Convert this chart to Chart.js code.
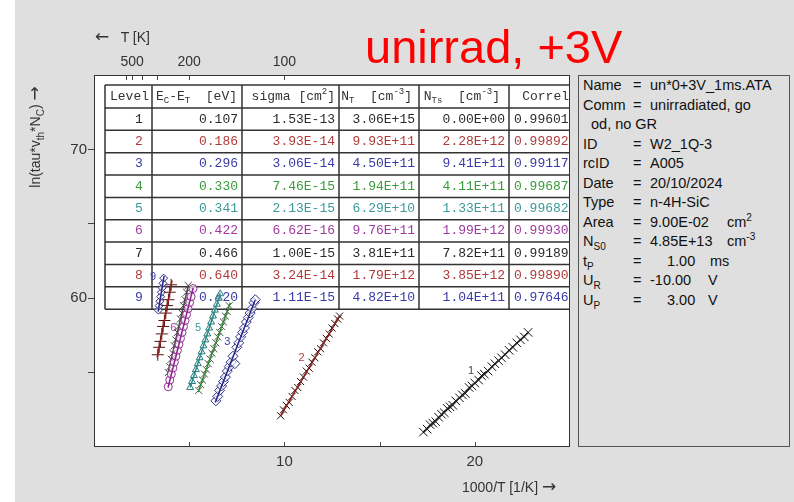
<!DOCTYPE html>
<html>
<head>
<meta charset="utf-8">
<script src="https://cdn.jsdelivr.net/npm/chart.js@4.4.1/dist/chart.umd.min.js"></script>
<style>
  body { margin: 0; background: #fff; font-family: "Liberation Sans", Arial, sans-serif; }
  #wrap { position: relative; width: 794px; height: 502px; overflow: hidden; }
  #wrap canvas { position: absolute; left: 0; top: 0; }
  .axt { position: absolute; color: #333; font-size: 14px; white-space: nowrap; }
  .arr { font-family: "DejaVu Sans", sans-serif; font-size: 17px; line-height: 0; }
  .sb { font-size: 10px; position: relative; top: 4px; line-height: 0; }
  .sp { font-size: 10px; position: relative; top: -6px; line-height: 0; }
  #title { position: absolute; left: 365px; top: 23px; font-size: 47px; line-height: 47px; color: #f00; white-space: nowrap; }
  #info { position: absolute; left: 578px; top: 75px; width: 210px; height: 370px; border: 1px solid #555; background: #dfdfdf; }
  #info > div { position: relative; height: 19.5px; line-height: 19.5px; font-size: 14.5px; color: #111; white-space: nowrap; }
  #info > div > span { position: absolute; }
</style>
</head>
<body>
<div id="wrap">
  <canvas id="chart_1" width="794" height="502"></canvas>
  <div id="title">unirrad, +3V</div>
  <div class="axt" style="left:95px; top:29px;"><span class="arr">&larr;</span>&nbsp;&nbsp; T [K]</div>
  <div class="axt" style="left:462px; top:479px;">1000/T [1/K] <span class="arr">&rarr;</span></div>
  <div class="axt" style="left:-25px; top:129px; width:120px; text-align:center; transform:rotate(-90deg);">ln(tau*v<span class="sb">th</span>*N<span class="sb">C</span>) <span class="arr">&rarr;</span></div>
  <div id="info">
    <div><span style="left:4px">Name</span><span style="left:54px">=</span><span style="left:71px">un*0+3V_1ms.ATA</span></div>
    <div><span style="left:4px">Comm</span><span style="left:54px">=</span><span style="left:71px">unirradiated, go</span></div>
    <div><span style="left:12px">od, no GR</span></div>
    <div><span style="left:4px">ID</span><span style="left:54px">=</span><span style="left:71px">W2_1Q-3</span></div>
    <div><span style="left:4px">rcID</span><span style="left:54px">=</span><span style="left:71px">A005</span></div>
    <div><span style="left:4px">Date</span><span style="left:54px">=</span><span style="left:71px">20/10/2024</span></div>
    <div><span style="left:4px">Type</span><span style="left:54px">=</span><span style="left:71px">n-4H-SiC</span></div>
    <div><span style="left:4px">Area</span><span style="left:54px">=</span><span style="left:71px">9.00E-02</span><span style="left:148px">cm<span class="sp">2</span></span></div>
    <div><span style="left:4px">N<span class="sb">S0</span></span><span style="left:54px">=</span><span style="left:71px">4.85E+13</span><span style="left:148px">cm<span class="sp">-3</span></span></div>
    <div><span style="left:4px">t<span class="sb">P</span></span><span style="left:54px">=</span><span style="left:88px">1.00</span><span style="left:131px">ms</span></div>
    <div><span style="left:4px">U<span class="sb">R</span></span><span style="left:54px">=</span><span style="left:71px">-10.00</span><span style="left:129px">V</span></div>
    <div><span style="left:4px">U<span class="sb">P</span></span><span style="left:54px">=</span><span style="left:88px">3.00</span><span style="left:129px">V</span></div>
  </div>
</div>
<script>
// Arrhenius points per level: x = 1000/T [1/K], y = ln(tau*vth*Nc)
const l1x = [17.3, 17.5, 17.65, 17.8, 17.95, 18.1, 18.25, 18.4, 18.55, 18.7, 18.85, 19.0, 19.2, 19.35, 19.5, 19.7, 19.85, 20.0, 20.2, 20.35, 20.5, 20.7, 20.9, 21.05, 21.25, 21.4, 21.6, 21.8, 22.0, 22.2, 22.4, 22.6, 22.8];
const l1y = [51.0, 51.2, 51.5, 51.6, 51.7, 52.0, 52.2, 52.3, 52.6, 52.7, 52.8, 53.1, 53.3, 53.5, 53.6, 54.0, 54.1, 54.3, 54.5, 54.8, 54.9, 55.1, 55.4, 55.6, 55.8, 56.0, 56.2, 56.5, 56.7, 57.0, 57.2, 57.4, 57.7];
const l2x = [9.8, 9.95, 10.1, 10.25, 10.4, 10.55, 10.7, 10.85, 11.0, 11.15, 11.3, 11.45, 11.6, 11.75, 11.9, 12.05, 12.2, 12.35, 12.5, 12.65, 12.8, 12.9];
const l2y = [52.1, 52.5, 52.8, 53.0, 53.4, 53.8, 54.0, 54.4, 54.7, 55.1, 55.3, 55.7, 56.0, 56.4, 56.6, 57.0, 57.3, 57.6, 58.0, 58.3, 58.6, 58.8];
const l3x = [6.4, 6.5, 6.6, 6.7, 6.8, 6.9, 7.0, 7.1, 7.2, 7.3, 7.4, 7.5, 7.6, 7.7, 7.8, 7.9, 8.0, 8.1, 8.2, 8.3, 8.4, 8.47];
const l3y = [53.1, 53.4, 53.8, 54.1, 54.4, 54.7, 55.1, 55.4, 55.7, 56.1, 55.6, 56.7, 57.0, 57.4, 57.7, 58.0, 58.4, 58.7, 59.0, 59.3, 59.7, 59.9];
const l4x = [5.5, 5.6, 5.7, 5.8, 5.9, 6.0, 6.1, 6.2, 6.3, 6.4, 6.5, 6.6, 6.7, 6.8, 6.9, 7.0, 7.1];
const l4y = [53.8, 54.2, 54.5, 54.9, 55.2, 55.6, 55.9, 56.3, 56.6, 57.0, 57.4, 57.7, 58.1, 58.4, 58.8, 59.1, 59.5];
const l5x = [5.05, 5.15, 5.25, 5.35, 5.45, 5.55, 5.65, 5.75, 5.85, 5.95, 6.05, 6.15, 6.25, 6.35, 6.45, 6.55, 6.63];
const l5y = [54.0, 54.4, 54.8, 55.2, 55.6, 56.0, 56.4, 56.8, 57.2, 57.6, 58.0, 58.4, 58.8, 59.2, 59.6, 60.0, 60.3];
const l6x = [3.9, 3.98, 4.06, 4.14, 4.22, 4.3, 4.38, 4.46, 4.54, 4.62, 4.7, 4.78, 4.86, 4.94, 5.02, 5.1, 5.2];
const l6y = [54.05, 54.5, 54.9, 55.3, 55.7, 56.1, 56.5, 56.9, 57.3, 57.7, 58.1, 58.5, 58.9, 59.3, 59.7, 60.1, 60.65];
const l7x = [3.9, 3.98, 4.06, 4.14, 4.22, 4.3, 4.38, 4.46, 4.54, 4.62, 4.7, 4.78, 4.86, 4.95];
const l7y = [55.0, 55.4, 55.9, 56.3, 56.8, 57.2, 57.7, 58.1, 58.6, 59.0, 59.5, 59.9, 60.4, 60.85];
const l8x = [3.35, 3.42, 3.49, 3.56, 3.63, 3.7, 3.77, 3.84, 3.91, 3.98, 4.05];
const l8y = [56.2, 56.7, 57.1, 57.6, 58.1, 58.5, 59.0, 59.5, 59.9, 60.4, 60.9];
const l9x = [3.38, 3.42, 3.46, 3.5, 3.54, 3.58, 3.62, 3.66];
const l9y = [59.2, 59.5, 59.8, 60.1, 60.4, 60.7, 61.0, 61.35];

// fitted lines, start/end per level
const fitX = [[17.3, 22.8], [9.8, 12.9], [6.37, 8.47], [5.47, 7.16], [5.05, 6.63], [3.89, 5.21], [3.89, 4.95], [3.32, 4.1], [3.37, 3.68]];
const fitY = [[51.0, 57.7], [52.1, 58.8], [53.0, 59.9], [53.7, 59.7], [54.0, 60.3], [54.0, 60.7], [55.0, 60.85], [56.0, 61.2], [59.1, 61.5]];

// level labels placed next to the curves
const tagText = ['1', '2', '3', '5', '6', '9'];
const tagX = [19.8, 10.9, 7.0, 5.47, 4.16, 3.1];
const tagY = [55.1, 56.0, 57.05, 58.0, 58.0, 61.4];

// result table
const levelNo = ['1', '2', '3', '4', '5', '6', '7', '8', '9'];
const energies = ['0.107', '0.186', '0.296', '0.330', '0.341', '0.422', '0.466', '0.640', '0.420'];
const sigmas = ['1.53E-13', '3.93E-14', '3.06E-14', '7.46E-15', '2.13E-15', '6.62E-16', '1.00E-15', '3.24E-14', '1.11E-15'];
const nT = ['3.06E+15', '9.93E+11', '4.50E+11', '1.94E+11', '6.29E+10', '9.76E+11', '3.81E+11', '1.79E+12', '4.82E+10'];
const nTs = ['0.00E+00', '2.28E+12', '9.41E+11', '4.11E+11', '1.33E+11', '1.99E+12', '7.82E+11', '3.85E+12', '1.04E+11'];
const correl = ['0.99601', '0.99892', '0.99117', '0.99687', '0.99682', '0.99930', '0.99189', '0.99890', '0.97646'];

// temperature axis on top
const tTicks = [600, 500, 400, 300, 200, 100];
const tLabels = [500, 200, 100];

const textColors = ['#2a2a2a', '#b03a3a', '#3a3aa8', '#3a9a3a', '#3a9a9a', '#a03aa0', '#2a2a2a', '#b03a3a', '#3a3aa8'];
const lineColors = ['#222', '#8a2020', '#26268a', '#2a8a2a', '#2a8a8a', '#902090', '#444', '#8a2020', '#26268a'];
const markers = [
    {style: 'crossRot', color: '#111', r: 6},
    {style: 'crossRot', color: '#2a0a0a', r: 5},
    {style: 'rectRot', color: '#30308a', r: 5},
    {style: 'crossRot', color: '#555', r: 5},
    {style: 'triangle', color: '#2a7a7a', r: 4},
    {style: 'circle', color: '#903090', r: 4},
    {style: 'crossRot', color: '#444', r: 5},
    {style: 'cross', color: '#5a1010', r: 6},
    {style: 'rectRot', color: '#30308a', r: 4}
];
const allX = [l1x, l2x, l3x, l4x, l5x, l6x, l7x, l8x, l9x];
const allY = [l1y, l2y, l3y, l4y, l5y, l6y, l7y, l8y, l9y];

function pts(xs, ys) {
    return xs.map((x, i) => ({x: x, y: ys[i]}));
}

const datasets = [];
allX.forEach((xs, i) => {
    datasets.push({
        data: pts(fitX[i], fitY[i]),
        showLine: true,
        borderColor: lineColors[i],
        borderWidth: 1.5,
        pointRadius: 0
    });
    datasets.push({
        data: pts(xs, allY[i]),
        showLine: false,
        pointStyle: markers[i].style,
        pointRadius: markers[i].r,
        borderColor: markers[i].color,
        backgroundColor: 'rgba(255,255,255,0.6)',
        pointBorderWidth: 1
    });
});

const MONO = '"Liberation Mono", "Courier New", monospace';

// draws text made of normal / sub / sup pieces, right aligned at xr
function drawRich(ctx, parts, xr, y) {
    let w = 0;
    parts.forEach(p => {
        ctx.font = p[1] ? '9px ' + MONO : '13px ' + MONO;
        w += ctx.measureText(p[0]).width;
    });
    let x = xr - w;
    parts.forEach(p => {
        ctx.font = p[1] ? '9px ' + MONO : '13px ' + MONO;
        const dy = p[1] == 'sub' ? 4 : (p[1] == 'sup' ? -5 : 0);
        ctx.fillText(p[0], x, y + dy);
        x += ctx.measureText(p[0]).width;
    });
}

const colX = [105, 152, 242, 339, 419, 509, 575];
const headTop = 85, rowTop = 108, rowH = 22.35;

const framePlugin = {
    id: 'frame',
    beforeDraw(chart) {
        const {ctx, chartArea: a} = chart;
        ctx.save();
        ctx.fillStyle = '#dfdfdf';
        ctx.fillRect(15, 0, chart.width - 15, chart.height);
        ctx.fillStyle = '#fff';
        ctx.fillRect(0, 0, 15, chart.height);
        ctx.fillRect(a.left, a.top, a.width, a.height);
        ctx.restore();
    },
    beforeDatasetsDraw(chart) {
        const ctx = chart.ctx;
        const bottom = rowTop + rowH * 9;
        ctx.save();
        ctx.beginPath();
        ctx.rect(colX[0] - 2, headTop - 2, 572 - colX[0], bottom - headTop + 4);
        ctx.clip();
        ctx.fillStyle = '#fff';
        ctx.fillRect(colX[0], headTop, colX[6] - colX[0], bottom - headTop);
        ctx.textBaseline = 'middle';

        // header
        const hy = (headTop + rowTop) / 2;
        ctx.fillStyle = '#333';
        ctx.font = '13px ' + MONO;
        ctx.textAlign = 'left';
        ctx.fillText('Level', colX[0] + 5, hy);
        drawRich(ctx, [['E', ''], ['C', 'sub'], ['-E', ''], ['T', 'sub'], ['  [eV]', '']], colX[2] - 5, hy);
        drawRich(ctx, [['sigma [cm', ''], ['2', 'sup'], [']', '']], colX[3] - 4, hy);
        drawRich(ctx, [['N', ''], ['T', 'sub'], ['  [cm', ''], ['-3', 'sup'], [']', '']], colX[4] - 7, hy);
        drawRich(ctx, [['N', ''], ['Ts', 'sub'], ['  [cm', ''], ['-3', 'sup'], [']', '']], colX[5] - 9, hy);
        drawRich(ctx, [['Correl', '']], 569, hy);

        // rows
        levelNo.forEach((n, i) => {
            const y = rowTop + rowH * (i + 0.5);
            ctx.fillStyle = textColors[i];
            ctx.font = '13px ' + MONO;
            ctx.textAlign = 'center';
            ctx.fillText(n, 139, y);
            ctx.textAlign = 'right';
            ctx.fillText(energies[i], colX[2] - 4, y);
            ctx.fillText(sigmas[i], colX[3] - 4, y);
            ctx.fillText(nT[i], colX[4] - 4, y);
            ctx.fillText(nTs[i], colX[5] - 4, y);
            ctx.textAlign = 'left';
            ctx.fillText(correl[i], colX[5] + 5, y);
        });

        // grid of the table
        ctx.strokeStyle = '#333';
        ctx.lineWidth = 1.5;
        ctx.beginPath();
        colX.forEach(x => { ctx.moveTo(x, headTop); ctx.lineTo(x, bottom); });
        ctx.moveTo(colX[0], headTop); ctx.lineTo(colX[6], headTop);
        for (let i = 0; i <= 9; i++) {
            ctx.moveTo(colX[0], rowTop + rowH * i);
            ctx.lineTo(colX[6], rowTop + rowH * i);
        }
        ctx.stroke();
        ctx.restore();
    },
    afterDatasetsDraw(chart) {
        const {ctx, chartArea: a, scales} = chart;
        ctx.save();
        // level numbers
        ctx.font = '11px "Liberation Sans", Arial, sans-serif';
        ctx.textAlign = 'center';
        ctx.textBaseline = 'middle';
        const tagColors = ['#444', '#b04040', '#4040b0', '#3a9a9a', '#a040a0', '#4040b0'];
        tagText.forEach((t, i) => {
            ctx.fillStyle = tagColors[i];
            ctx.fillText(t, scales.x.getPixelForValue(tagX[i]), scales.y.getPixelForValue(tagY[i]));
        });

        // inward tick marks on bottom and top axes
        ctx.strokeStyle = '#444';
        ctx.lineWidth = 1;
        ctx.beginPath();
        [5, 10, 15, 20].forEach(v => {
            const x = Math.round(scales.x.getPixelForValue(v)) + 0.5;
            ctx.moveTo(x, a.bottom); ctx.lineTo(x, a.bottom - 5);
        });
        tTicks.forEach(t => {
            const x = Math.round(scales.x.getPixelForValue(1000 / t)) + 0.5;
            ctx.moveTo(x, a.top); ctx.lineTo(x, a.top + 5);
        });
        ctx.stroke();

        // plot frame
        ctx.strokeStyle = '#333';
        ctx.lineWidth = 1;
        ctx.strokeRect(a.left + 0.5, a.top + 0.5, a.width - 1, a.height - 1);
        ctx.restore();
    }
};

const tickFont = {size: 15, family: '"Liberation Sans", Arial, sans-serif'};

new Chart(document.getElementById('chart_1'), {
    type: 'scatter',
    data: {datasets: datasets},
    options: {
        responsive: false,
        animation: false,
        devicePixelRatio: 1,
        layout: {padding: {left: 0, top: 0, right: 224, bottom: 0}},
        plugins: {
            legend: {display: false},
            tooltip: {enabled: false}
        },
        scales: {
            x: {
                type: 'linear',
                position: 'bottom',
                min: 0,
                max: 25,
                ticks: {
                    stepSize: 5,
                    color: '#333',
                    font: tickFont,
                    padding: 6,
                    callback: v => (v == 10 || v == 20) ? v : ''
                },
                grid: {drawOnChartArea: false, drawTicks: false},
                border: {display: false},
                afterFit: s => { s.height = 55; }
            },
            x2: {
                type: 'linear',
                position: 'top',
                min: 0,
                max: 25,
                afterBuildTicks: s => { s.ticks = tTicks.map(t => ({value: 1000 / t})); },
                ticks: {
                    autoSkip: false,
                    maxRotation: 0,
                    color: '#333',
                    font: {size: 14, family: '"Liberation Sans", Arial, sans-serif'},
                    padding: 4,
                    callback: (v, i) => tLabels.includes(tTicks[i]) ? tTicks[i] : ''
                },
                grid: {drawOnChartArea: false, drawTicks: false},
                border: {display: false},
                afterFit: s => { s.height = 75; }
            },
            y: {
                min: 50,
                max: 75,
                afterBuildTicks: s => { s.ticks = [55, 60, 65, 70].map(v => ({value: v})); },
                ticks: {
                    color: '#333',
                    font: tickFont,
                    padding: 1,
                    callback: v => (v == 60 || v == 70) ? v : ''
                },
                grid: {drawOnChartArea: false, drawTicks: true, tickLength: 6, color: '#444'},
                border: {display: false},
                afterFit: s => { s.width = 94; }
            }
        }
    },
    plugins: [framePlugin]
});
</script>
</body>
</html>
